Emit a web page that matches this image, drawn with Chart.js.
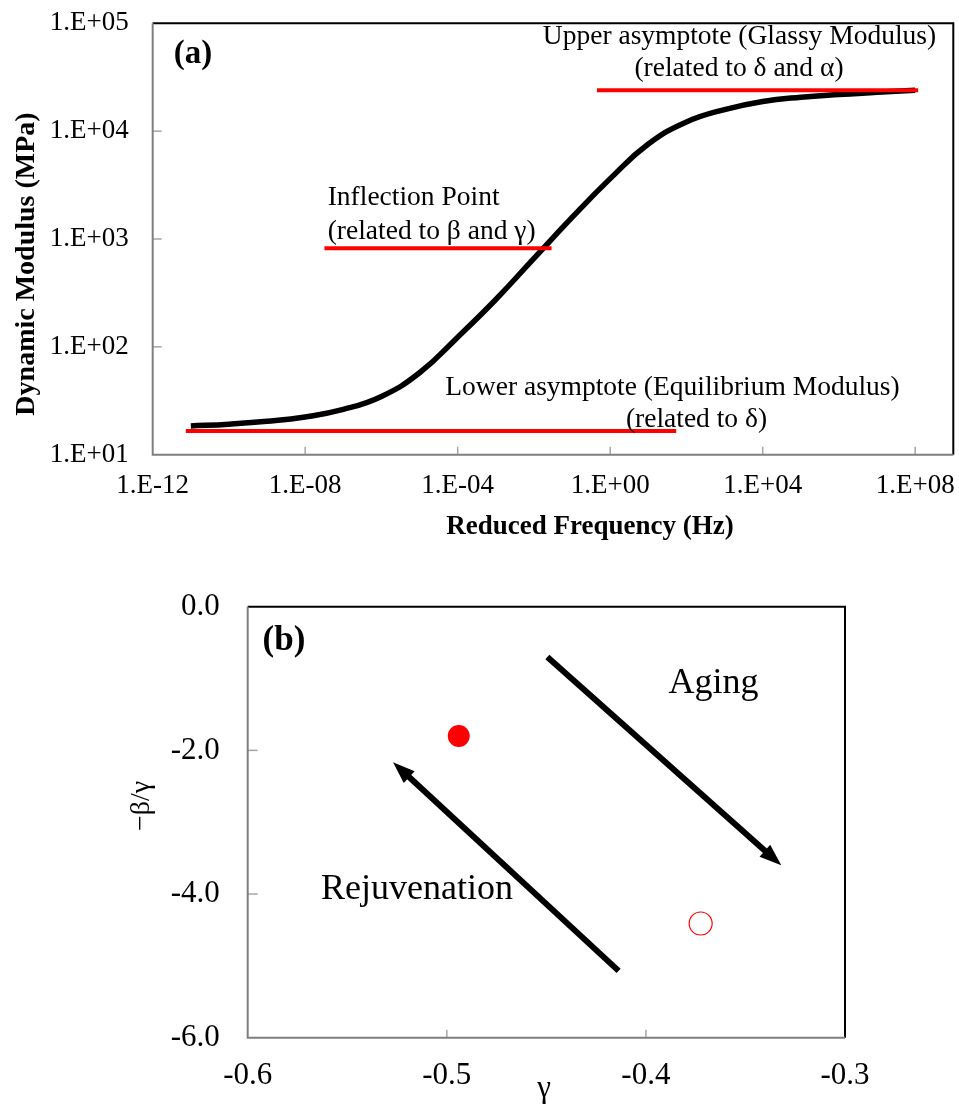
<!DOCTYPE html>
<html>
<head>
<meta charset="utf-8">
<title>Modulo dinamico</title>
<script src="https://cdn.jsdelivr.net/npm/chart.js@4.4.1/dist/chart.umd.min.js"></script>
<style>
	body{ margin:0; background:#fff; }
	.quadro{ position:absolute; left:0; width:959px; }
	#quadro_a{ top:0; height:550px; }
	#quadro_b{ top:550px; height:560px; }
</style>
</head>
<body>
<div class="quadro" id="quadro_a"><canvas id="grafico_a" width="959" height="550"></canvas></div>
<div class="quadro" id="quadro_b"><canvas id="grafico_b" width="959" height="560"></canvas></div>
<script>
//----------------------------------------Dados----------------------------------------
//Curva mestra (a): frequencia reduzida (Hz) x modulo dinamico (MPa), uma leitura por decada
const frequencias = [1e-11, 1e-10, 1e-9, 1e-8, 1e-7, 1e-6, 1e-5, 1e-4, 1e-3, 1e-2,
	0.1, 1, 10, 100, 1e3, 1e4, 1e5, 1e6, 1e7, 1e8];
const modulos = [18.45, 19.2, 20.4, 22.4, 26.3, 34.7, 57.5, 123, 275, 661,
	1585, 3630, 7590, 12160, 15850, 18840, 20650, 21880, 22910, 23990];

//Linhas vermelhas de referencia (assintotas e ponto de inflexao)
const sup_x = [0.45, 1.2e8];
const sup_y = [24000, 24000];
const infl_x = [3.2e-8, 0.029];
const infl_y = [820, 820];
const inf_x = [7.4e-12, 54];
const inf_y = [16.6, 16.6];

//Eixos (a)
const ticks_freq = [1e-12, 1e-8, 1e-4, 1, 1e4, 1e8];
const rotulos_freq = ["1.E-12", "1.E-08", "1.E-04", "1.E+00", "1.E+04", "1.E+08"];
const ticks_mod = [10, 100, 1000, 10000, 100000];
const rotulos_mod = ["1.E+01", "1.E+02", "1.E+03", "1.E+04", "1.E+05"];

//Grafico (b): gamma x -beta/gamma
const ponto_cheio_x = [-0.494];
const ponto_cheio_y = [-1.80];
const ponto_vazio_x = [-0.3725];
const ponto_vazio_y = [-4.41];

//Setas (inicio -> ponta)
const seta_aging_x = [-0.4495, -0.332];
const seta_aging_y = [-0.70, -3.60];
const seta_rejuv_x = [-0.4137, -0.527];
const seta_rejuv_y = [-5.07, -2.165];

//Eixos (b)
const ticks_gama = [-0.6, -0.5, -0.4, -0.3];
const rotulos_gama = ["-0.6", "-0.5", "-0.4", "-0.3"];
const ticks_razao = [-6, -4, -2, 0];
const rotulos_razao = ["-6.0", "-4.0", "-2.0", "0.0"];


//----------------------------------------Funções----------------------------------------
const FONTE = '"Liberation Serif", "Times New Roman", serif';

function pares(xs, ys){
	return xs.map((x, i) => ({x: x, y: ys[i]}));
}

//Desenha tracos internos dos eixos e a moldura da area do grafico
const plugin_moldura = {
	id: 'moldura',
	afterDraw(chart, args, opts){
		const ctx = chart.ctx;
		const area = chart.chartArea;
		const sx = chart.scales.x;
		const sy = chart.scales.y;
		ctx.save();
		ctx.strokeStyle = '#a6a6a6';
		ctx.lineWidth = 1.5;
		sx.ticks.forEach(t => {
			const px = sx.getPixelForValue(t.value);
			if(px <= area.left + 1 || px >= area.right - 1) return;
			ctx.beginPath();
			ctx.moveTo(px, area.bottom);
			ctx.lineTo(px, area.bottom - opts.traco_x);
			ctx.stroke();
		});
		sy.ticks.forEach(t => {
			const py = sy.getPixelForValue(t.value);
			if(py <= area.top + 1 || py >= area.bottom - 1) return;
			ctx.beginPath();
			ctx.moveTo(area.left, py);
			ctx.lineTo(area.left + opts.traco_y, py);
			ctx.stroke();
		});
		ctx.lineWidth = 2;
		ctx.strokeStyle = '#000';
		ctx.beginPath();
		ctx.moveTo(area.left, area.top);
		ctx.lineTo(area.right, area.top);
		ctx.lineTo(area.right, area.bottom);
		ctx.stroke();
		ctx.strokeStyle = '#7f7f7f';
		ctx.beginPath();
		ctx.moveTo(area.left, area.top);
		ctx.lineTo(area.left, area.bottom);
		ctx.lineTo(area.right, area.bottom);
		ctx.stroke();
		ctx.restore();
	}
};

//Escreve os textos soltos (titulos dos eixos, rotulos das linhas)
const plugin_textos = {
	id: 'textos',
	afterDatasetsDraw(chart, args, opts){
		const ctx = chart.ctx;
		ctx.save();
		ctx.fillStyle = '#000';
		ctx.textBaseline = 'alphabetic';
		opts.itens.forEach(t => {
			ctx.save();
			ctx.font = t.fonte + ' ' + FONTE;
			ctx.textAlign = t.alinh || 'center';
			ctx.translate(t.x, t.y);
			if(t.rot) ctx.rotate(-Math.PI / 2);
			ctx.fillText(t.texto, 0, 0);
			ctx.restore();
		});
		ctx.restore();
	}
};

//Desenha as setas do grafico (b)
const plugin_setas = {
	id: 'setas',
	afterDatasetsDraw(chart, args, opts){
		const ctx = chart.ctx;
		const sx = chart.scales.x;
		const sy = chart.scales.y;
		ctx.save();
		ctx.fillStyle = '#000';
		ctx.strokeStyle = '#000';
		opts.lista.forEach(s => {
			const x0 = sx.getPixelForValue(s.xs[0]);
			const y0 = sy.getPixelForValue(s.ys[0]);
			const x1 = sx.getPixelForValue(s.xs[1]);
			const y1 = sy.getPixelForValue(s.ys[1]);
			const ang = Math.atan2(y1 - y0, x1 - x0);
			const comp = 22, meia = 8;
			const bx = x1 - comp * Math.cos(ang);
			const by = y1 - comp * Math.sin(ang);
			ctx.lineWidth = 6;
			ctx.lineCap = 'butt';
			ctx.beginPath();
			ctx.moveTo(x0, y0);
			ctx.lineTo(bx + 2 * Math.cos(ang), by + 2 * Math.sin(ang));
			ctx.stroke();
			ctx.beginPath();
			ctx.moveTo(x1, y1);
			ctx.lineTo(bx + meia * Math.sin(ang), by - meia * Math.cos(ang));
			ctx.lineTo(bx - meia * Math.sin(ang), by + meia * Math.cos(ang));
			ctx.closePath();
			ctx.fill();
		});
		ctx.restore();
	}
};

//Eixo com ticks fixos; o tamanho da caixa do eixo vem de "lado"
function eixo(tipo, min, max, ticks, rotulos, tam_fonte, padding, lado, tamanho){
	return {
		type: tipo,
		min: min,
		max: max,
		afterBuildTicks: s => { s.ticks = ticks.map(v => ({value: v})); },
		afterFit: s => {
			s[lado] = tamanho;
			s.paddingLeft = 0;
			s.paddingRight = 0;
			s.paddingTop = 0;
			s.paddingBottom = 0;
		},
		grid: { display: false, drawTicks: false },
		border: { display: false },
		ticks: {
			autoSkip: false,
			maxRotation: 0,
			padding: padding,
			color: '#000',
			font: { family: FONTE, size: tam_fonte },
			callback: (v, i) => rotulos[i]
		}
	};
}


//----------------------------------------Graficos----------------------------------------
Chart.defaults.font.family = FONTE;

//Grafico (a): curva mestra
const grafico_a = new Chart(document.getElementById('grafico_a'), {
	type: 'line',
	data: {
		datasets: [
			{ data: pares(frequencias, modulos), borderColor: '#000', borderWidth: 5.5,
				pointRadius: 0, tension: 0.45, order: 2 },
			{ data: pares(sup_x, sup_y), borderColor: '#ff0000', borderWidth: 4, pointRadius: 0, order: 1 },
			{ data: pares(infl_x, infl_y), borderColor: '#ff0000', borderWidth: 4, pointRadius: 0, order: 1 },
			{ data: pares(inf_x, inf_y), borderColor: '#ff0000', borderWidth: 4, pointRadius: 0, order: 1 }
		]
	},
	options: {
		responsive: false,
		animation: false,
		layout: { padding: { top: 23.3, right: 5.7, left: 0, bottom: 0 } },
		plugins: {
			legend: { display: false },
			tooltip: { enabled: false },
			moldura: { traco_x: 8, traco_y: 9 },
			textos: { itens: [
				{ texto: '(a)', x: 193, y: 63, fonte: 'bold 33px' },
				{ texto: 'Upper asymptote (Glassy Modulus)', x: 739.5, y: 44, fonte: '27.5px' },
				{ texto: '(related to δ and α)', x: 739, y: 75.5, fonte: '27.5px' },
				{ texto: 'Inflection Point', x: 327.7, y: 205, fonte: '27.5px', alinh: 'left' },
				{ texto: '(related to β and γ)', x: 327.7, y: 238.5, fonte: '27.5px', alinh: 'left' },
				{ texto: 'Lower asymptote (Equilibrium Modulus)', x: 672.5, y: 395, fonte: '27.5px' },
				{ texto: '(related to δ)', x: 696.5, y: 427, fonte: '27.5px' },
				{ texto: 'Reduced Frequency (Hz)', x: 590, y: 533.5, fonte: 'bold 27px' },
				{ texto: 'Dynamic Modulus (MPa)', x: 33.5, y: 264, fonte: 'bold 28px', rot: true }
			]}
		},
		scales: {
			x: eixo('logarithmic', 1e-12, 1e9, ticks_freq, rotulos_freq, 27, 15, 'height', 95.3),
			y: eixo('logarithmic', 10, 1e5, ticks_mod, rotulos_mod, 27, 24, 'width', 152.7)
		}
	},
	plugins: [plugin_textos, plugin_moldura]
});

//Grafico (b): envelhecimento e rejuvenescimento
const grafico_b = new Chart(document.getElementById('grafico_b'), {
	type: 'scatter',
	data: {
		datasets: [
			{ data: pares(ponto_cheio_x, ponto_cheio_y), pointRadius: 11, pointStyle: 'circle',
				backgroundColor: '#ff0000', borderColor: '#ff0000', borderWidth: 0 },
			{ data: pares(ponto_vazio_x, ponto_vazio_y), pointRadius: 11.5, pointStyle: 'circle',
				backgroundColor: 'rgba(255,255,255,0)', borderColor: '#ff0000', borderWidth: 1.2 }
		]
	},
	options: {
		responsive: false,
		animation: false,
		layout: { padding: { top: 56.7, right: 114, left: 0, bottom: 0 } },
		plugins: {
			legend: { display: false },
			tooltip: { enabled: false },
			moldura: { traco_x: 8, traco_y: 10 },
			setas: { lista: [
				{ xs: seta_aging_x, ys: seta_aging_y },
				{ xs: seta_rejuv_x, ys: seta_rejuv_y }
			]},
			textos: { itens: [
				{ texto: '(b)', x: 284, y: 100, fonte: 'bold 35px' },
				{ texto: 'Aging', x: 713.5, y: 143, fonte: '36px' },
				{ texto: 'Rejuvenation', x: 417, y: 349, fonte: '36px' },
				{ texto: 'γ', x: 544, y: 547, fonte: '31px' },
				{ texto: '−β/γ', x: 149, y: 256, fonte: '28px', rot: true }
			]}
		},
		scales: {
			x: eixo('linear', -0.6, -0.3, ticks_gama, rotulos_gama, 31, 20, 'height', 72.3),
			y: eixo('linear', -6, 0, ticks_razao, rotulos_razao, 31, 28, 'width', 247.7)
		}
	},
	plugins: [plugin_setas, plugin_textos, plugin_moldura]
});
</script>
</body>
</html>
